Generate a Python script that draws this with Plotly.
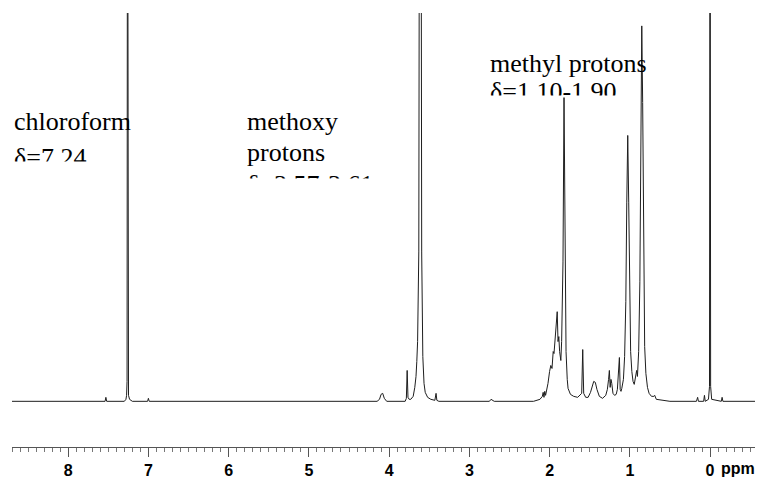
import plotly.graph_objects as go

# ---- data (ppm, relative intensity) ----
ppm = [8.70, 7.60, 7.54, 7.53, 7.52, 7.30, 7.28, 7.272, 7.266, 7.26, 7.254, 7.248, 7.235, 7.20,
       7.01, 7.00, 6.99, 4.15, 4.12, 4.10, 4.08, 4.06, 4.03, 3.80, 3.785, 3.775, 3.765, 3.75,
       3.73, 3.70, 3.68, 3.665, 3.655, 3.645, 3.63, 3.618, 3.606, 3.594, 3.58, 3.565, 3.55,
       3.52, 3.48, 3.43, 3.415, 3.405, 3.38, 2.75, 2.73, 2.71, 2.69, 2.20, 2.12, 2.09, 2.08,
       2.07, 2.06, 2.05, 2.035, 2.02, 2.00, 1.985, 1.97, 1.955, 1.945, 1.935, 1.92, 1.905,
       1.895, 1.885, 1.875, 1.86, 1.85, 1.833, 1.82, 1.807, 1.795, 1.78, 1.77, 1.74, 1.70,
       1.65, 1.60, 1.587, 1.575, 1.55, 1.52, 1.49, 1.47, 1.45, 1.43, 1.41, 1.38, 1.34, 1.30,
       1.28, 1.265, 1.255, 1.245, 1.235, 1.225, 1.21, 1.19, 1.17, 1.155, 1.13, 1.12, 1.11,
       1.10, 1.08, 1.065, 1.05, 1.038, 1.026, 1.014, 1.003, 0.99, 0.975, 0.96, 0.945, 0.93,
       0.915, 0.905, 0.89, 0.875, 0.862, 0.851, 0.84, 0.828, 0.815, 0.80, 0.78, 0.76, 0.73,
       0.70, 0.69, 0.67, 0.60, 0.50, 0.17, 0.155, 0.145, 0.08, 0.07, 0.06, 0.02, 0.007, 0.0,
       -0.007, -0.02, -0.14, -0.15, -0.16, -0.56]
intensity = [0, 0, 0, 4, 0, 0, 2, 6, 20, 700, 20, 6, 2, 0,
             0, 3, 0, 0, 2, 7, 8, 3, 0, 0, 3, 31, 4, 2,
             2, 5, 14, 25, 40, 60, 150, 800, 800, 150, 45, 18, 9,
             4, 2, 1, 8, 1, 0, 0, 2, 1, 0, 0, 2, 5, 9,
             4, 10, 6, 12, 18, 30, 36, 33, 50, 48, 58, 70, 90,
             60, 65, 50, 41, 60, 140, 305, 140, 50, 22, 13, 7, 5,
             4, 8, 52, 8, 4, 4, 9, 15, 20, 19, 12, 5, 3, 6,
             12, 22, 31, 14, 22, 18, 8, 6, 7, 12, 44, 12, 10,
             13, 22, 45, 100, 200, 267, 200, 100, 50, 30, 20, 17, 25,
             31, 25, 50, 120, 300, 377, 300, 130, 55, 28, 14, 8, 5,
             5, 6, 2, 1, 0, 0, 4, 0, 0, 6, 0, 2, 15, 700,
             15, 2, 0, 4, 0, 0]

tick_values = [8, 7, 6, 5, 4, 3, 2, 1, 0]
tick_labels = ["8", "7", "6", "5", "4", "3", "2", "1", "0"]

W, H = 767, 479
def px(x):
    return x / W
def py(y):
    return 1 - y / H

fig = go.Figure()
fig.add_trace(go.Scatter(x=ppm, y=intensity, mode="lines",
                         line=dict(color="#1e1e1e", width=1), hoverinfo="skip",
                         showlegend=False))

serif = dict(family="Liberation Serif", size=26, color="black")
bold = dict(family="Liberation Sans", size=16, color="black", weight="bold")

annotations = []
def text_line(txt, x, baseline):
    annotations.append(dict(text=txt, xref="paper", yref="paper", x=px(x), y=py(baseline + 7),
                            xanchor="left", yanchor="bottom", showarrow=False, font=serif,
                            borderpad=0))
def mask(x0, y0, x1, y1):
    annotations.append(dict(text=" ", xref="paper", yref="paper", x=px(x0), y=py(y0),
                            xanchor="left", yanchor="top", showarrow=False,
                            width=x1 - x0, height=y1 - y0, bgcolor="white", borderpad=0,
                            font=dict(size=4)))

text_line("chloroform", 13, 131)
text_line("δ=7.24", 13, 167)
mask(10, 162, 100, 182)
text_line("methoxy", 246, 131)
text_line("protons", 246, 162)
text_line("δ=3.57-3.61", 246, 194)
mask(240, 179, 392, 205)
text_line("methyl protons", 489, 72)
text_line("δ=1.10-1.90", 489, 100)
mask(485, 95, 561, 108)
mask(567, 95, 625, 108)
annotations.append(dict(text="ppm", xref="paper", yref="paper", x=px(719), y=py(470),
                        xanchor="left", yanchor="middle", showarrow=False, font=bold))

fig.update_layout(
    width=W, height=H,
    margin=dict(l=0, r=0, t=0, b=0),
    paper_bgcolor="white", plot_bgcolor="white",
    annotations=annotations,
    xaxis=dict(domain=[px(12), px(755)], range=[8.70, -0.56], showgrid=False, zeroline=False,
               showline=True, linecolor="#555", linewidth=1, anchor="y",
               ticks="outside", ticklen=9, tickcolor="#555", tickwidth=1,
               tickvals=tick_values, ticktext=tick_labels, tickfont=bold,
               minor=dict(dtick=0.1, tick0=0, ticks="outside", ticklen=4, tickcolor="#777")),
    yaxis=dict(domain=[py(449), py(13)], range=[-46, 390], visible=False),
)

fig.write_html("out.html")
